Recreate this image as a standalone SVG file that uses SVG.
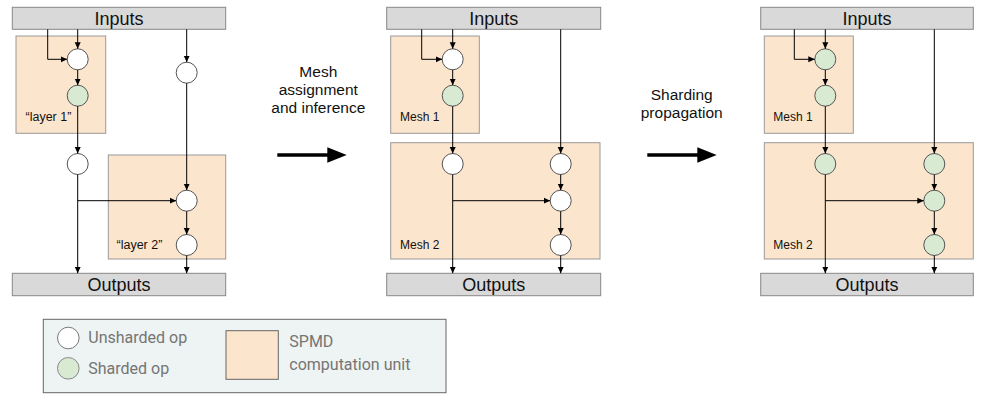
<svg xmlns="http://www.w3.org/2000/svg" width="989" height="403" viewBox="0 0 989 403">
<style>
.bar{fill:#d9d9d9;stroke:#888;stroke-width:1}
.unit{fill:#fce5cd;stroke:#999;stroke-width:1}
.op{fill:#fff;stroke:#555;stroke-width:1}
.sh{fill:#d9ead3;stroke:#555;stroke-width:1}
.bt{font-family:"Liberation Sans",Arial,sans-serif;font-size:18px;fill:#111;text-anchor:middle}
.ut{font-family:"Liberation Sans",Arial,sans-serif;font-size:12.5px;fill:#111}
.lt{font-family:"Liberation Sans",Arial,sans-serif;font-size:15.5px;fill:#111;text-anchor:middle}
.gt{font-family:Roboto,"Liberation Sans",sans-serif;font-size:16px;fill:#757575}
.c{fill:none;stroke:#000;stroke-width:1;marker-end:url(#ah)}
</style>
<defs>
<marker id="ah" markerWidth="7" markerHeight="7" refX="6.5" refY="3.5" orient="auto" markerUnits="userSpaceOnUse">
<path d="M0,0.5 L6.5,3.5 L0,6.5 z" fill="#000"/>
</marker>
</defs>

<!-- Panel 1 -->
<g id="p1-inputs"><rect class="bar" x="12.3" y="7.3" width="213.4" height="22"/><text class="bt" x="119" y="25">Inputs</text></g>
<g id="p1-outputs"><rect class="bar" x="12.3" y="273.3" width="213.4" height="22.4"/><text class="bt" x="119" y="291">Outputs</text></g>
<g id="p1-layer1"><rect class="unit" x="16" y="36" width="89.7" height="97.3"/><text class="ut" x="25.5" y="121">“layer 1”</text></g>
<g id="p1-layer2"><rect class="unit" x="108.3" y="155" width="117.4" height="104"/><text class="ut" x="116.5" y="248.5">“layer 2”</text></g>
<g id="p1-n1"><circle class="op" cx="77.7" cy="59.3" r="10.5"/></g>
<g id="p1-n2"><circle class="sh" cx="77.7" cy="95.7" r="10.5"/></g>
<g id="p1-n3"><circle class="op" cx="77.7" cy="164" r="10.5"/></g>
<g id="p1-n4"><circle class="op" cx="186.7" cy="72.7" r="10.5"/></g>
<g id="p1-n5"><circle class="op" cx="186.7" cy="200.7" r="10.5"/></g>
<g id="p1-n6"><circle class="op" cx="186.7" cy="245" r="10.5"/></g>

<!-- Panel 2 -->
<g id="p2-inputs"><rect class="bar" x="386.7" y="7.3" width="214" height="22"/><text class="bt" x="493.7" y="25">Inputs</text></g>
<g id="p2-outputs"><rect class="bar" x="386.7" y="273.3" width="214" height="22.4"/><text class="bt" x="493.7" y="291">Outputs</text></g>
<g id="p2-mesh1"><rect class="unit" x="390.7" y="36" width="88.6" height="97.3"/><text class="ut" x="400" y="121" style="font-size:12px">Mesh 1</text></g>
<g id="p2-mesh2"><rect class="unit" x="390.7" y="142.7" width="209.3" height="116.3"/><text class="ut" x="400" y="248.5" style="font-size:12px">Mesh 2</text></g>
<g id="p2-n1"><circle class="op" cx="452.7" cy="59.3" r="10.5"/></g>
<g id="p2-n2"><circle class="sh" cx="452.7" cy="95.7" r="10.5"/></g>
<g id="p2-n3"><circle class="op" cx="452.7" cy="164" r="10.5"/></g>
<g id="p2-n4"><circle class="op" cx="560.7" cy="164" r="10.5"/></g>
<g id="p2-n5"><circle class="op" cx="560.7" cy="200.7" r="10.5"/></g>
<g id="p2-n6"><circle class="op" cx="560.7" cy="245" r="10.5"/></g>

<!-- Panel 3 -->
<g id="p3-inputs"><rect class="bar" x="760.7" y="7.3" width="212.6" height="22"/><text class="bt" x="867" y="25">Inputs</text></g>
<g id="p3-outputs"><rect class="bar" x="760.7" y="273.3" width="212.6" height="22.4"/><text class="bt" x="867" y="291">Outputs</text></g>
<g id="p3-mesh1"><rect class="unit" x="764.3" y="36" width="89" height="97.3"/><text class="ut" x="773.3" y="121" style="font-size:12px">Mesh 1</text></g>
<g id="p3-mesh2"><rect class="unit" x="764.3" y="142.7" width="209" height="116.3"/><text class="ut" x="773.3" y="248.5" style="font-size:12px">Mesh 2</text></g>
<g id="p3-n1"><circle class="sh" cx="825.3" cy="59.3" r="10.5"/></g>
<g id="p3-n2"><circle class="sh" cx="825.3" cy="95.7" r="10.5"/></g>
<g id="p3-n3"><circle class="sh" cx="825.3" cy="164" r="10.5"/></g>
<g id="p3-n4"><circle class="sh" cx="934.3" cy="164" r="10.5"/></g>
<g id="p3-n5"><circle class="sh" cx="934.3" cy="200.7" r="10.5"/></g>
<g id="p3-n6"><circle class="sh" cx="934.3" cy="245" r="10.5"/></g>

<!-- Connectors -->
<g id="connectors">
<path class="c" d="M77.7,29.3 V48.8"/>
<path class="c" d="M47.7,29.3 V59.3 H67.2"/>
<path class="c" d="M77.7,69.8 V85.2"/>
<path class="c" d="M77.7,106.2 V153.5"/>
<path class="c" d="M77.7,174.5 V273.3"/>
<path class="c" d="M77.7,200.7 H176.2"/>
<path class="c" d="M186.7,29.3 V62.2"/>
<path class="c" d="M186.7,83.2 V190.2"/>
<path class="c" d="M186.7,211.2 V234.5"/>
<path class="c" d="M186.7,255.5 V273.3"/>

<path class="c" d="M452.7,29.3 V48.8"/>
<path class="c" d="M421.7,29.3 V59.3 H442.2"/>
<path class="c" d="M452.7,69.8 V85.2"/>
<path class="c" d="M452.7,106.2 V153.5"/>
<path class="c" d="M452.7,174.5 V273.3"/>
<path class="c" d="M452.7,200.7 H550.2"/>
<path class="c" d="M560.7,29.3 V153.5"/>
<path class="c" d="M560.7,174.5 V190.2"/>
<path class="c" d="M560.7,211.2 V234.5"/>
<path class="c" d="M560.7,255.5 V273.3"/>

<path class="c" d="M825.3,29.3 V48.8"/>
<path class="c" d="M794.3,29.3 V59.3 H814.8"/>
<path class="c" d="M825.3,69.8 V85.2"/>
<path class="c" d="M825.3,106.2 V153.5"/>
<path class="c" d="M825.3,174.5 V273.3"/>
<path class="c" d="M825.3,200.7 H923.8"/>
<path class="c" d="M934.3,29.3 V153.5"/>
<path class="c" d="M934.3,174.5 V190.2"/>
<path class="c" d="M934.3,211.2 V234.5"/>
<path class="c" d="M934.3,255.5 V273.3"/>
</g>

<!-- Transition arrows -->
<g id="step1">
<text class="lt" x="318.3" y="77">Mesh</text>
<text class="lt" x="318.3" y="95">assignment</text>
<text class="lt" x="318.3" y="113">and inference</text>
<line x1="277.3" y1="155" x2="330" y2="155" stroke="#000" stroke-width="3.5"/>
<polygon points="327.3,147.3 346.7,155 327.3,162.7" fill="#000"/>
</g>
<g id="step2">
<text class="lt" x="681.7" y="100">Sharding</text>
<text class="lt" x="681.7" y="118">propagation</text>
<line x1="647.3" y1="155" x2="700" y2="155" stroke="#000" stroke-width="3.5"/>
<polygon points="697.3,147.3 716.7,155 697.3,162.7" fill="#000"/>
</g>

<!-- Legend -->
<g id="legend">
<rect x="43.3" y="319.3" width="402.7" height="73.4" fill="#eef3f3" stroke="#666" stroke-width="1"/>
<circle cx="68.3" cy="338" r="10.8" fill="#fff" stroke="#777"/>
<text class="gt" x="88.3" y="342.5">Unsharded op</text>
<circle cx="68.3" cy="368.3" r="10.8" fill="#d9ead3" stroke="#888"/>
<text class="gt" x="88.3" y="374">Sharded op</text>
<rect x="226" y="330.7" width="52.3" height="48.6" fill="#fce5cd" stroke="#666"/>
<text class="gt" x="289.3" y="347.3">SPMD</text>
<text class="gt" x="289.3" y="369.5">computation unit</text>
</g>
</svg>
